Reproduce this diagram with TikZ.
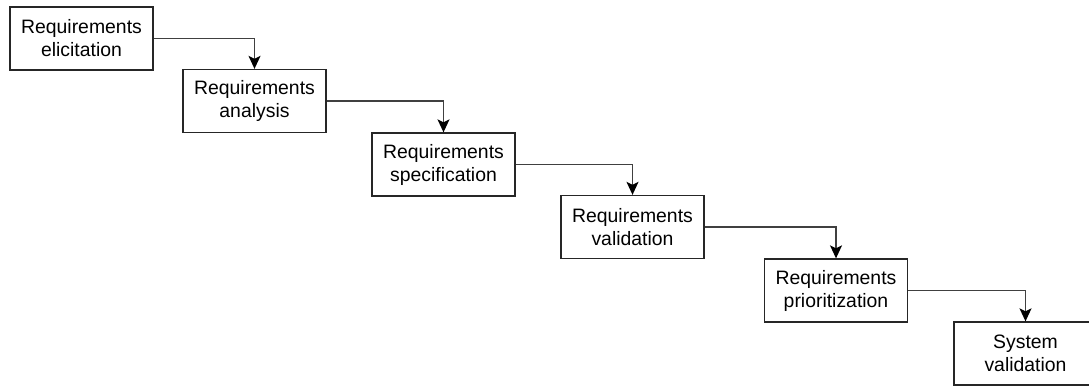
\documentclass[tikz,border=0pt]{standalone}
\usepackage{fontspec}
\setmainfont{Liberation Sans}
\usetikzlibrary{arrows.meta}
\begin{document}
\begin{tikzpicture}[x=1pt,y=-1pt,
  stage/.style={draw=black!85, line width=1.3pt, fill=white,
    minimum width=143pt, minimum height=63pt, inner sep=0pt, align=center,
    font=\fontsize{19.4pt}{23pt}\selectfont},
  flow/.style={draw=black!75, line width=1.4pt,
    -{Stealth[length=13pt,width=12pt,inset=3pt,black]}}]
  \useasboundingbox (0,0) rectangle (1089,386);
  \node[stage] (elic) at (81.5,38.5) {Requirements\\elicitation};
  \node[stage] (anal) at (254.5,101) {Requirements\\analysis};
  \node[stage] (spec) at (443.5,164.5) {Requirements\\specification};
  \node[stage] (vali) at (632.5,227) {Requirements\\validation};
  \node[stage] (prio) at (836,290.5) {Requirements\\prioritization};
  \node[stage] (sysv) at (1025.5,353.5) {System\\validation};
  \draw[flow] (elic.east) -| (anal.north);
  \draw[flow] (anal.east) -| (spec.north);
  \draw[flow] (spec.east) -| (vali.north);
  \draw[flow] (vali.east) -| (prio.north);
  \draw[flow] (prio.east) -| (sysv.north);
\end{tikzpicture}
\end{document}
